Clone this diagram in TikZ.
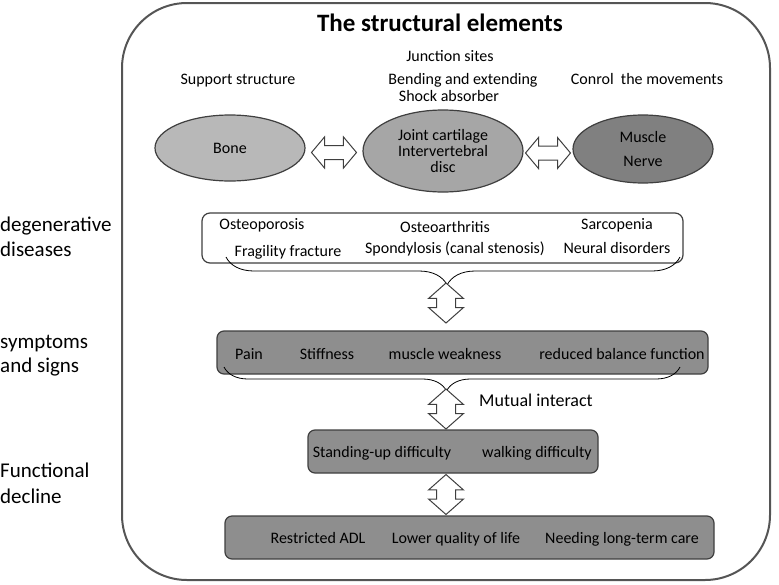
\documentclass[tikz,border=0pt]{standalone}
\usepackage{fontspec}
\setmainfont{Carlito}
\usepackage{tikz}
\usetikzlibrary{positioning, arrows.meta, calc, shapes.geometric, shapes.arrows, decorations.pathreplacing}
\definecolor{framegray}{HTML}{555555}
\definecolor{edgegray}{HTML}{3F3F3F}
\definecolor{bonegray}{HTML}{B8B8B8}
\definecolor{jointgray}{HTML}{A6A6A6}
\definecolor{musclegray}{HTML}{808080}
\definecolor{boxgray}{HTML}{8E8E8E}

\tikzset{
  tissue/.style={ellipse, draw=edgegray, line width=1.2pt, inner sep=0pt, align=center,
                 font=\fontsize{16}{16}\selectfont},
  stage/.style={draw=edgegray, line width=1.2pt, rounded corners=7pt, fill=boxgray, inner sep=0pt},
  item/.style={anchor=base, inner sep=0pt, font=\fontsize{16}{18}\selectfont},
  sidelabel/.style={anchor=base west, inner sep=0pt, font=\fontsize{21}{25}\selectfont},
  hlink/.style={double arrow, draw=edgegray, fill=white, line width=1pt, inner xsep=0pt,
                inner ysep=6.5pt, double arrow head extend=8.5pt, double arrow tip angle=100,
                minimum height=45pt},
  vlink/.style={double arrow, rotate=90, draw=edgegray, fill=white, line width=1pt, inner xsep=0pt,
                inner ysep=9pt, double arrow head extend=8pt, double arrow tip angle=97,
                minimum height=40pt},
  bracket/.style={draw=black, line width=0.8pt, decorate},
}

\begin{document}
\begin{tikzpicture}[x=1pt, y=1pt]
  \useasboundingbox (0,0) rectangle (779,-584);

  % outer frame
  \node (frame) [draw=framegray, line width=2pt, rounded corners=65pt,
        minimum width=648pt, minimum height=577pt] at (446,-291.5) {};
  \node (title) [anchor=base, font=\fontsize{25}{28}\selectfont\bfseries] at (440,-31) {The structural elements};

  \node (junction) [item] at (450,-61) {Junction sites};
  \node (support) [item] at (238,-84) {Support structure};
  \node (bending) [item] at (463,-84) {Bending and extending};
  \node (shock) [item] at (449,-101) {Shock absorber};
  \node (control) [item] at (647,-84) {Conrol\ \ the movements};

  % tissues
  \node (bone) [tissue, fill=bonegray, minimum width=150pt, minimum height=66pt] at (230,-148) {Bone};
  \node (joint) [tissue, fill=jointgray, minimum width=160pt, minimum height=82pt] at (443,-151)
        {Joint cartilage\\ Intervertebral\\ disc};
  \node (muscle) [tissue, fill=musclegray, minimum width=140pt, minimum height=68pt] at (643,-149)
        {Muscle\\[8pt] Nerve};
  \node (bj) [hlink, yshift=-3pt] at ($(bone.east)!0.5!(joint.west)$) {};
  \node (jm) [hlink, yshift=-3pt] at ($(joint.east)!0.5!(muscle.west)$) {};

  % degenerative diseases
  \node (dis) [stage, fill=white, rounded corners=8pt, minimum width=481pt, minimum height=50pt] at (442.5,-238) {};
  \node (osteop) [item] at (262,-229) {Osteoporosis};
  \node (osteoa) [item] at (445,-232) {Osteoarthritis};
  \node (sarco) [item] at (617,-229) {Sarcopenia};
  \node (fragil) [item] at (288,-256) {Fragility fracture};
  \node (spondy) [item] at (455,-253) {Spondylosis (canal stenosis)};
  \node (neural) [item] at (617,-253) {Neural disorders};
  \coordinate (disL) at (226,-257);
  \coordinate (disR) at (680,-257);
  \draw[bracket, decoration={brace, mirror, amplitude=28pt, aspect=0.487}] (disL) -- (disR);
  \node (link1) [vlink] at (446,-303) {};

  % symptoms and signs
  \node (sym) [stage, minimum width=491pt, minimum height=43pt] at (462.5,-352.5) {};
  \node (pain) [item] at (249,-359) {Pain};
  \node (stiff) [item] at (327,-359) {Stiffness};
  \node (weak) [item] at (445,-359) {muscle weakness};
  \node (balance) [item] at (622,-359) {reduced balance function};
  \coordinate (symL) at (224,-367);
  \coordinate (symR) at (680,-367);
  \draw[bracket, decoration={brace, mirror, amplitude=24pt, aspect=0.488}] (symL) -- (symR);
  \node (link2) [vlink] at (446,-409) {};
  \node (mutual) [anchor=base, inner sep=0pt, font=\fontsize{18}{20}\selectfont] at (536,-406) {Mutual interact};

  % functional decline
  \node (fun) [stage, minimum width=290pt, minimum height=43pt] at (453,-451.5) {};
  \node (standing) [item] at (382,-457) {Standing-up difficulty};
  \node (walking) [item] at (537,-457) {walking difficulty};
  \node (adl) [stage, minimum width=489pt, minimum height=43pt] at (469.5,-537.5) {};
  \node (restr) [item] at (318,-543) {Restricted ADL};
  \node (quality) [item] at (456,-543) {Lower quality of life};
  \node (care) [item] at (622,-543) {Needing long-term care};
  \node (link3) [vlink] at (446,-494.5) {};

  % side labels
  \node (lab1) [sidelabel] at (0,-231) {degenerative};
  \node (lab2) [sidelabel] at (0,-256) {diseases};
  \node (lab3) [sidelabel] at (0,-348) {symptoms};
  \node (lab4) [sidelabel] at (0,-372) {and signs};
  \node (lab5) [sidelabel] at (0,-477) {Functional};
  \node (lab6) [sidelabel] at (0,-503) {decline};
\end{tikzpicture}
\end{document}
